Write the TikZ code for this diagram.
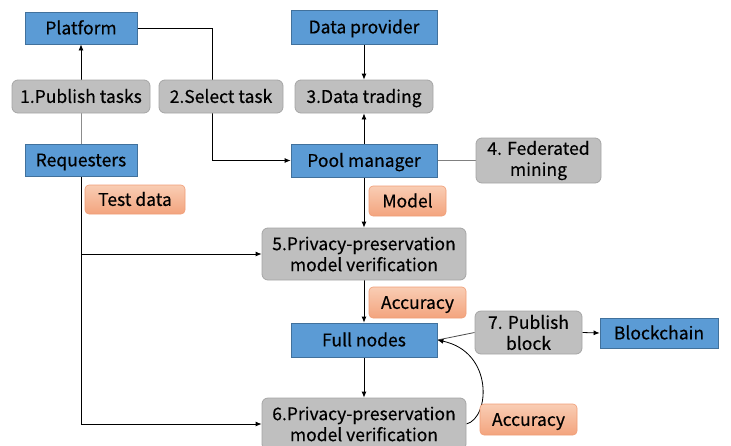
\documentclass[tikz,border=0pt]{standalone}
\usepackage{fontspec}
\setmainfont[FakeBold=0.4]{Noto Sans CJK SC}
\usetikzlibrary{arrows.meta,backgrounds}
\definecolor{actorfill}{HTML}{5B9BD5}
\definecolor{actordraw}{HTML}{41719C}
\definecolor{stepfill}{HTML}{BFBFBF}
\definecolor{stepdraw}{HTML}{A5A5A5}
\definecolor{datatop}{HTML}{F9CDB4}
\definecolor{databottom}{HTML}{F3A47E}
\definecolor{datadraw}{HTML}{F09D76}
\tikzset{
  txt/.style={font=\fontsize{17.5}{21}\selectfont},
  oneline/.style={text height=16pt, text depth=3.2pt},
  actor/.style={txt, oneline, draw=actordraw, fill=actorfill, line width=0.8pt, inner sep=0pt},
  stepbox/.style={txt, draw=stepdraw, fill=stepfill, rounded corners=6pt, line width=0.8pt,
    inner sep=0pt, align=center},
  databox/.style={txt, oneline, draw=datadraw, top color=datatop, bottom color=databottom,
    rounded corners=4pt, line width=0.6pt, inner sep=0pt},
  flow/.style={line width=0.8pt, -{Latex[length=6pt,width=5pt]}},
  link/.style={line width=0.8pt, draw=black!70},
}
\begin{document}
\begin{tikzpicture}[x=1pt,y=-1pt]
\useasboundingbox (0,0) rectangle (731,445);

% participants
\node[actor, minimum width=112pt, minimum height=32pt] (platform) at (81,28) {Platform};
\node[actor, minimum width=112pt, minimum height=32pt] (requesters) at (81,160) {Requesters};
\node[actor, minimum width=146pt, minimum height=34pt] (provider) at (364,27) {Data provider};
\node[actor, minimum width=146pt, minimum height=33pt] (pool) at (364,160.5) {Pool manager};
\node[actor, minimum width=146pt, minimum height=34pt] (full) at (364,340) {Full nodes};
\node[actor, minimum width=118pt, minimum height=30pt] (chain) at (659,333) {Blockchain};

% process steps
\node[stepbox, oneline, minimum width=138pt, minimum height=33pt] (publish) at (81,96.5) {1.Publish tasks};
\node[stepbox, oneline, minimum width=124pt, minimum height=33pt] (select) at (221,96.5) {2.Select task};
\node[stepbox, oneline, minimum width=138pt, minimum height=33pt] (trading) at (364,96.5) {3.Data trading};
\node[stepbox, minimum width=125pt, minimum height=45pt] (fed) at (538.5,160.5) {4. Federated\\mining};
\node[stepbox, minimum width=204pt, minimum height=52pt] (verifyA) at (364,254) {5.Privacy-preservation\\model verification};
\node[stepbox, minimum width=204pt, minimum height=52pt] (verifyB) at (364,424) {6.Privacy-preservation\\model verification};
\node[stepbox, minimum width=107pt, minimum height=43pt] (block) at (528.5,332.5) {7. Publish\\block};

% exchanged data
\node[databox, minimum width=100pt, minimum height=29pt] (test) at (135,199.5) {Test data};
\node[databox, minimum width=77pt, minimum height=30pt] (model) at (407.5,201) {Model};
\node[databox, minimum width=97pt, minimum height=31pt] (accA) at (417.5,302.5) {Accuracy};
\node[databox, minimum width=97pt, minimum height=31pt] (accB) at (528.5,419.5) {Accuracy};

\coordinate (turn) at (212,28);
\coordinate (split) at (81,254);
\coordinate (foot) at (81,424);

\begin{scope}[on background layer]
  \draw[link, draw=black!45] (requesters.north) -- (publish.south);
  \draw[flow] (publish.north) -- (platform.south);
  \draw[flow] (platform.east) -- (turn) |- (pool.west);
  \draw[flow] (provider.south) -- (trading.north);
  \draw[flow] (pool.north) -- (trading.south);
  \draw[link, draw=black!50] (pool.east) -- (fed.west);
  \draw[flow] (pool.south) -- (verifyA.north);
  \draw[line width=0.8pt] (requesters.south) -- (foot);
  \draw[flow] (split) -- (verifyA.west);
  \draw[flow] (foot) -- (verifyB.west);
  \draw[flow] (verifyA.south) -- (full.north);
  \draw[flow] (full.south) -- (verifyB.north);
  \draw[link] (full.east) -- (block.west);
  \draw[flow] (block.east) -- (chain.west);
  \draw[flow] (verifyB.east) .. controls (490,418) and (494,352) .. (full.east);
\end{scope}
\end{tikzpicture}
\end{document}
